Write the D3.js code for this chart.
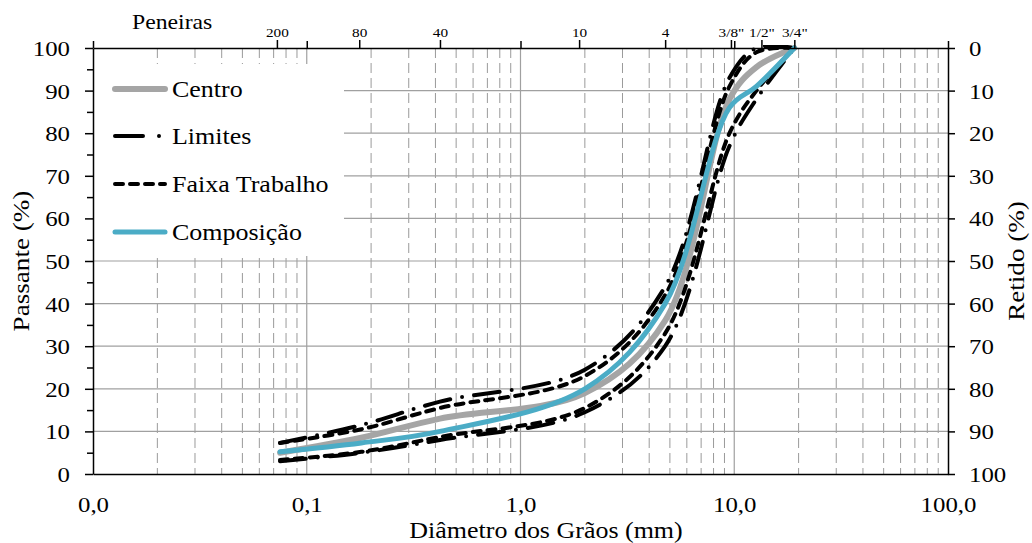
<!DOCTYPE html>
<html><head><meta charset="utf-8">
<script src="https://cdn.jsdelivr.net/npm/d3@7"></script>
<style>body{margin:0;background:#fff}svg{display:block}</style>
</head><body>
<svg id="c" width="1032" height="543"></svg>
<script>
// ---- data ----
const aberturas  = [0.075, 0.18, 0.42, 2.0, 4.75, 9.5, 12.7, 19.1];
const centro     = [5.0, 8.5, 13.0, 19.0, 36, 88, 95.5, 100];
const limiteSup  = [7.3, 11.5, 17.0, 24.5, 44, 93, 100, 100];
const limiteInf  = [3.0, 5.0, 8.0, 14.5, 30, 77, 88, 100];
const faixaSup   = [7.3, 10.5, 15.5, 23.0, 42, 91, 99, 100];
const faixaInf   = [3.3, 5.2, 8.7, 15.5, 33, 80, 90, 100];
const composicao = [5.2, 7.3, 10.0, 20.0, 40, 86, 91, 100];

const peneiraLabels = ["200", "80", "40", "10", "4", "3/8\"", "1/2\"", "3/4\""];
const peneiraTicks  = [0.0725, 0.176, 0.42, 1.88, 4.75, 9.65, 13.4, 19.1];
const xTickValues = [0.01, 0.1, 1, 10, 100];
const xTickLabels = ["0,0", "0,1", "1,0", "10,0", "100,0"];
const yTicks      = [0, 10, 20, 30, 40, 50, 60, 70, 80, 90, 100];
const yMinorTicks = [5, 15, 25, 35, 45, 55, 65, 75, 85, 95];
const legendNames = ["Centro", "Limites", "Faixa Trabalho", "Composição"];

// ---- layout ----
const FONT = "'Liberation Serif','Times New Roman',serif";
const SX = 1.13;
const L = 93, R = 948, T = 48, B = 474;
const svg = d3.select("#c");
const x = d3.scaleLog().domain([0.01, 100]).range([L, R]);
const y = d3.scaleLinear().domain([0, 100]).range([B, T]);

// ---- grid ----
const grid = svg.append("g");
const minorX = [];
[0.01, 0.1, 1, 10].forEach(d => { for (let k = 2; k <= 9; k++) minorX.push(d * k); });
grid.selectAll("line.mx").data(minorX).join("line")
  .attr("x1", d => x(d)).attr("x2", d => x(d)).attr("y1", T).attr("y2", B)
  .attr("stroke", "#9a9a9a").attr("stroke-width", 1).attr("stroke-dasharray", "10,5");
grid.selectAll("line.dx").data([0.1, 1, 10]).join("line")
  .attr("x1", d => x(d)).attr("x2", d => x(d)).attr("y1", T).attr("y2", B)
  .attr("stroke", "#a0a0a0").attr("stroke-width", 1.2);
grid.selectAll("line.hy").data(yTicks.filter(v => v > 0 && v < 100)).join("line")
  .attr("x1", L).attr("x2", R).attr("y1", d => y(d)).attr("y2", d => y(d))
  .attr("stroke", "#a0a0a0").attr("stroke-width", 1.2);

// ---- legend box (covers grid) ----
svg.append("rect").attr("x", L + 1).attr("y", 64).attr("width", 250).attr("height", 192).attr("fill", "#fff");

// ---- series ----
svg.append("clipPath").attr("id", "clip").append("rect")
  .attr("x", L).attr("y", T - 3).attr("width", R - L).attr("height", B - T + 6);
const line = d3.line().x((d, i) => x(aberturas[i])).y(d => y(d)).curve(d3.curveCatmullRom.alpha(0.5));
const plot = svg.append("g").attr("clip-path", "url(#clip)");
const LIM_DASH = "26,12,0,12", FX_DASH = "8,7";
plot.append("path").attr("d", line(centro)).attr("fill", "none").attr("stroke", "#a5a5a5").attr("stroke-width", 6).attr("stroke-linecap", "round");
[limiteSup, limiteInf].forEach(s => plot.append("path").attr("d", line(s)).attr("fill", "none")
  .attr("stroke", "#000").attr("stroke-width", 4).attr("stroke-dasharray", LIM_DASH).attr("stroke-linecap", "round"));
[faixaSup, faixaInf].forEach(s => plot.append("path").attr("d", line(s)).attr("fill", "none")
  .attr("stroke", "#000").attr("stroke-width", 4).attr("stroke-dasharray", FX_DASH).attr("stroke-linecap", "round"));
plot.append("path").attr("d", line(composicao)).attr("fill", "none").attr("stroke", "#4bacc6").attr("stroke-width", 5).attr("stroke-linecap", "round");

// ---- axes ----
function styleText(sel, size) {
  sel.attr("font-family", FONT).attr("font-size", size).attr("fill", "#000");
}
const ax = svg.append("g");
// left
const gl = ax.append("g").attr("transform", `translate(${L},0)`)
  .call(d3.axisLeft(y).tickValues(yTicks).tickSize(8).tickSizeOuter(0));
gl.selectAll("text").attr("x", 0).attr("dy", "0.34em")
  .attr("transform", `translate(-23,0) scale(${SX},1)`).call(styleText, 22);
ax.append("g").attr("transform", `translate(${L},0)`)
  .call(d3.axisLeft(y).tickValues(yMinorTicks).tickSize(6).tickFormat(""))
  .select(".domain").remove();
// right
const gr = ax.append("g").attr("transform", `translate(${R},0)`)
  .call(d3.axisRight(y).tickValues(yTicks).tickSize(7).tickSizeOuter(0).tickFormat(d => 100 - d));
gr.selectAll("text").attr("x", 0).attr("dy", "0.34em")
  .attr("transform", `translate(21,0) scale(${SX},1)`).call(styleText, 22);
// bottom
const gb = ax.append("g").attr("transform", `translate(0,${B})`)
  .call(d3.axisBottom(x).tickValues(xTickValues).tickSize(0).tickSizeOuter(0).tickFormat((d, i) => xTickLabels[i]));
gb.selectAll("text").attr("y", 0).attr("dy", 0)
  .attr("transform", `translate(0,38) scale(${SX},1)`).call(styleText, 22);
// top: decade ticks
ax.append("g").attr("transform", `translate(0,${T})`)
  .call(d3.axisTop(x).tickValues(xTickValues).tickSize(7).tickSizeOuter(0).tickFormat(""));
// top: sieves
const gt = ax.append("g").attr("transform", `translate(0,${T})`)
  .call(d3.axisTop(x).tickValues(peneiraTicks).tickSize(8).tickSizeOuter(0).tickFormat((d, i) => peneiraLabels[i]));
gt.select(".domain").remove();
gt.selectAll("text").attr("y", 0).attr("dy", 0)
  .attr("transform", `translate(0,-11) scale(${SX},1)`).call(styleText, 13.5);
ax.selectAll(".domain").attr("stroke", "#000").attr("stroke-width", 1.5);
ax.selectAll(".tick line").attr("stroke", "#000").attr("stroke-width", 1.5);

// ---- titles ----
svg.append("text").text("Peneiras").attr("transform", `translate(132,29) scale(${SX},1)`).call(styleText, 21);
svg.append("text").text("Diâmetro dos Grãos (mm)").attr("text-anchor", "middle")
  .attr("transform", `translate(546,538) scale(${SX},1)`).call(styleText, 23);
svg.append("text").text("Passante (%)").attr("text-anchor", "middle")
  .attr("transform", `translate(29,261) rotate(-90) scale(${SX},1)`).call(styleText, 24);
svg.append("text").text("Retido (%)").attr("text-anchor", "middle")
  .attr("transform", `translate(1024,261) rotate(-90) scale(${SX},1)`).call(styleText, 24);

// ---- legend ----
const lg = svg.append("g");
const ly = [89, 136, 184, 232];
const lstyle = [
  {stroke: "#a5a5a5", w: 6, dash: null},
  {stroke: "#000", w: 4, dash: "28,16,0,16"},
  {stroke: "#000", w: 4, dash: FX_DASH},
  {stroke: "#4bacc6", w: 5, dash: null}
];
legendNames.forEach((n, i) => {
  const s = lstyle[i];
  const l = lg.append("line").attr("x1", 115).attr("x2", 165).attr("y1", ly[i]).attr("y2", ly[i])
    .attr("stroke", s.stroke).attr("stroke-width", s.w).attr("stroke-linecap", "round");
  if (s.dash) l.attr("stroke-dasharray", s.dash);
  lg.append("text").text(n).attr("dy", "0.34em")
    .attr("transform", `translate(172,${ly[i]}) scale(${SX},1)`).call(styleText, 23);
});
</script>
</body></html>
